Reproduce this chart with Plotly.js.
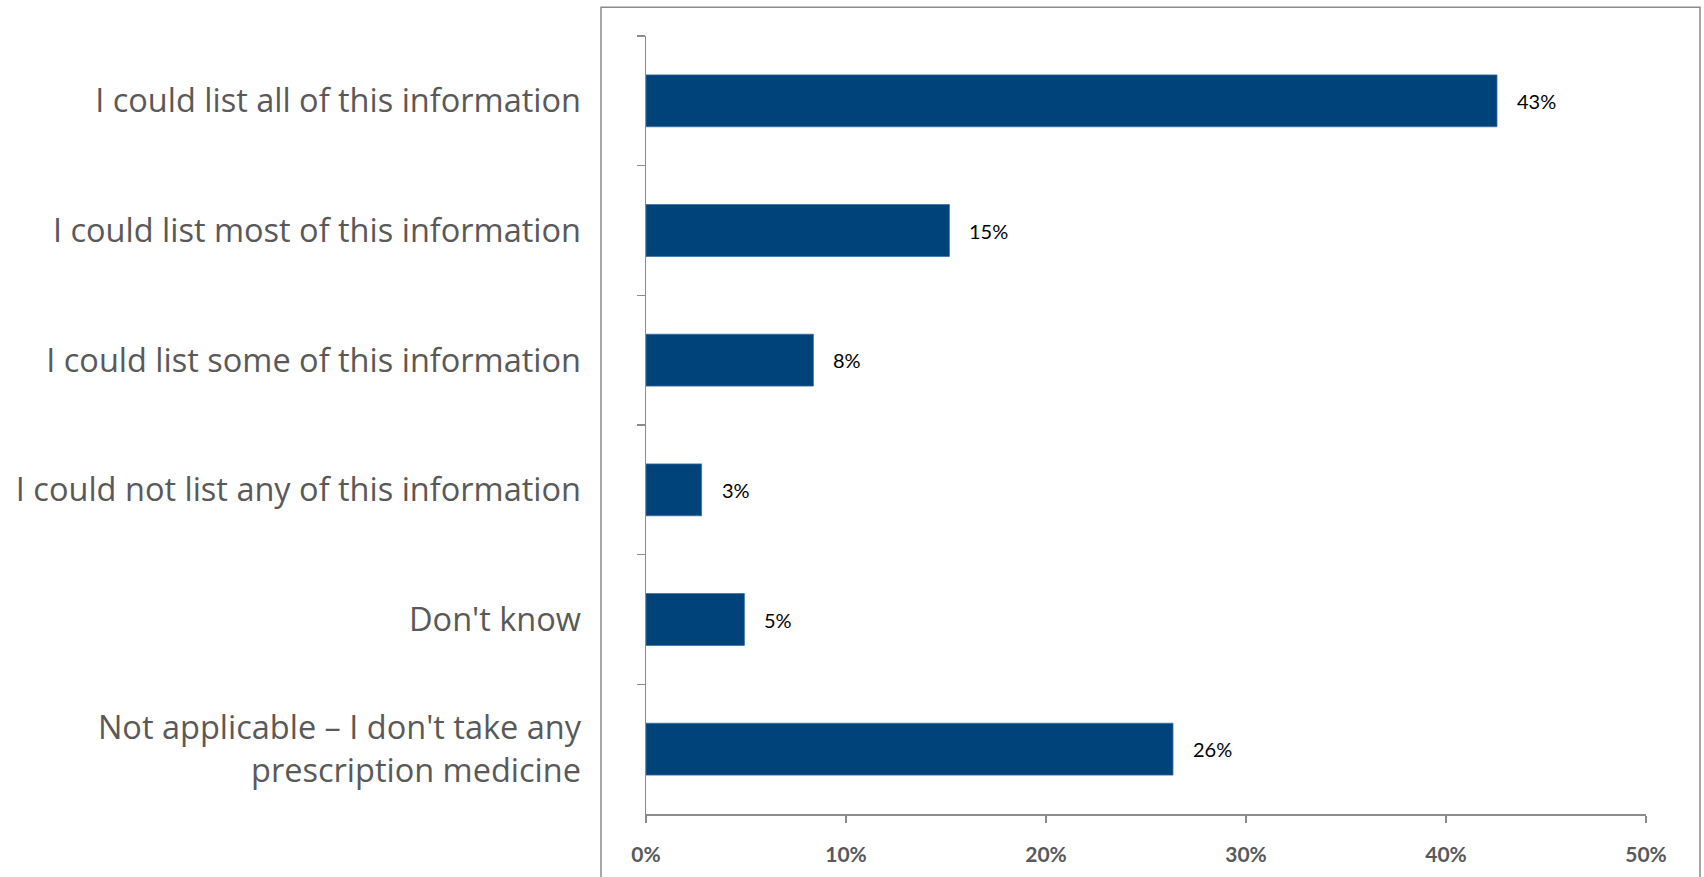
<!DOCTYPE html>
<html>
<head>
<meta charset="utf-8">
<script src="https://cdn.plot.ly/plotly-3.0.1.min.js"></script>
<style>html,body{margin:0;padding:0;background:#fff;}#chart{width:1704px;height:877px;}</style>
</head>
<body>
<div id="chart"></div>
<script>
const categories = [
  "I could list all of this information",
  "I could list most of this information",
  "I could list some of this information",
  "I could not list any of this information",
  "Don't know",
  "Not applicable – I don't take any<br>prescription medicine"
];
const values = [42.55, 15.17, 8.37, 2.78, 4.92, 26.35];
const xTicks = [0, 10, 20, 30, 40, 50];
const xTickLabels = ["0%", "10%", "20%", "30%", "40%", "50%"];

const labelFont = "Lato, 'Open Sans', sans-serif";
const catFont = "'Open Sans', Lato, sans-serif";

const trace = {
  type: "bar",
  orientation: "h",
  x: values,
  y: categories,
  marker: {color: "#00427A", line: {color: "#3a6ea5", width: 0.8}},
  hoverinfo: "x+y"
};

const annotations = values.map((v, i) => ({
  x: v, y: categories[i], xref: "x", yref: "y",
  text: Math.round(v) + "%",
  showarrow: false, xanchor: "left", xshift: 18,
  font: {family: labelFont, size: 20, color: "#000000"}
}));

const layout = {
  width: 1704, height: 877,
  margin: {l: 646, r: 58, t: 36, b: 63},
  paper_bgcolor: "#ffffff", plot_bgcolor: "#ffffff",
  showlegend: false,
  bargap: 0.6,
  xaxis: {
    range: [0, 50], tickmode: "array", tickvals: xTicks, ticktext: xTickLabels,
    showgrid: false, zeroline: false,
    showline: true, linecolor: "#8c8c8c", linewidth: 1.5,
    ticks: "outside", ticklen: 7, tickcolor: "#8c8c8c", tickwidth: 1.5,
    tickfont: {family: labelFont, size: 21, color: "#595959", weight: "bold"},
    ticklabelstandoff: 14
  },
  yaxis: {
    autorange: "reversed", type: "category",
    showgrid: false, zeroline: false,
    showline: true, linecolor: "#8c8c8c", linewidth: 1.5,
    ticks: "outside", ticklen: 8, tickcolor: "#8c8c8c", tickwidth: 1.5,
    tickson: "boundaries",
    tickfont: {family: catFont, size: 32.5, color: "#595959"},
    ticklabelstandoff: 57
  },
  annotations: annotations,
  shapes: [{
    type: "rect", xref: "paper", yref: "paper",
    x0: -0.045, x1: 1.054, y0: -0.12, y1: 1.037,
    line: {color: "#8a8a8a", width: 1.5}, fillcolor: "rgba(0,0,0,0)", layer: "below"
  }]
};

Plotly.newPlot("chart", [trace], layout, {displayModeBar: false, staticPlot: true});
</script>
</body>
</html>
